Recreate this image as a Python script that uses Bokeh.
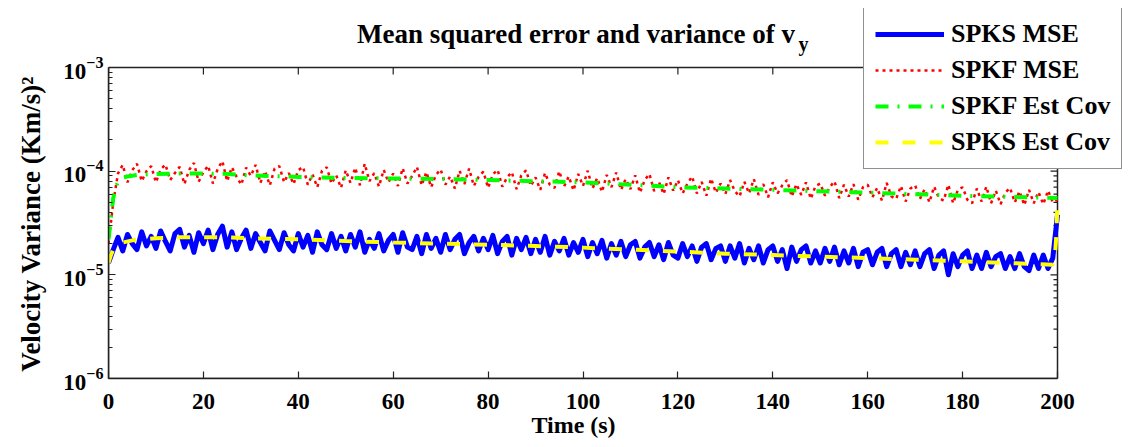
from bokeh.plotting import figure
from bokeh.models import Range1d, FixedTicker, LogTicker, LogTickFormatter, Label, Legend, LegendItem
from bokeh.embed import file_html
from bokeh.resources import INLINE

FONT = "Liberation Serif"

# ---- data ----
spks_mse_t = list(range(201))
spks_mse = [
    1.30e-5, 1.75e-5, 2.30e-5, 1.70e-5, 2.45e-5, 2.00e-5, 1.75e-5, 2.60e-5, 1.90e-5, 2.35e-5,
    1.80e-5, 2.65e-5, 2.10e-5, 1.70e-5, 2.50e-5, 2.75e-5, 1.85e-5, 2.40e-5, 1.65e-5, 2.55e-5,
    2.00e-5, 2.70e-5, 1.75e-5, 2.45e-5, 2.95e-5, 1.85e-5, 2.60e-5, 1.75e-5, 2.25e-5, 2.70e-5,
    1.80e-5, 2.50e-5, 2.05e-5, 1.70e-5, 2.65e-5, 2.15e-5, 1.75e-5, 2.55e-5, 1.95e-5, 1.70e-5,
    2.50e-5, 1.85e-5, 2.40e-5, 1.65e-5, 2.60e-5, 1.95e-5, 1.75e-5, 2.50e-5, 1.80e-5, 2.35e-5,
    1.70e-5, 2.45e-5, 1.85e-5, 2.60e-5, 1.65e-5, 2.20e-5, 1.80e-5, 2.50e-5, 1.70e-5, 2.15e-5,
    2.45e-5, 1.65e-5, 2.55e-5, 1.85e-5, 1.75e-5, 2.35e-5, 1.60e-5, 2.45e-5, 1.80e-5, 2.25e-5,
    1.65e-5, 2.45e-5, 1.75e-5, 2.20e-5, 2.45e-5, 1.60e-5, 2.05e-5, 2.35e-5, 1.70e-5, 2.25e-5,
    1.75e-5, 2.40e-5, 1.60e-5, 2.10e-5, 2.35e-5, 1.55e-5, 2.25e-5, 1.75e-5, 2.30e-5, 1.60e-5,
    2.20e-5, 1.65e-5, 2.35e-5, 1.55e-5, 2.10e-5, 1.70e-5, 2.25e-5, 1.55e-5, 2.05e-5, 1.65e-5,
    2.20e-5, 1.50e-5, 2.05e-5, 1.60e-5, 2.15e-5, 1.45e-5, 2.00e-5, 1.55e-5, 2.10e-5, 1.50e-5,
    1.95e-5, 2.10e-5, 1.45e-5, 1.85e-5, 2.05e-5, 1.50e-5, 1.95e-5, 1.40e-5, 2.05e-5, 1.55e-5,
    1.45e-5, 2.00e-5, 1.50e-5, 1.90e-5, 1.35e-5, 1.85e-5, 2.00e-5, 1.40e-5, 1.80e-5, 1.90e-5,
    1.35e-5, 1.90e-5, 1.45e-5, 2.00e-5, 1.30e-5, 1.80e-5, 1.40e-5, 1.90e-5, 1.30e-5, 1.75e-5,
    1.90e-5, 1.35e-5, 1.75e-5, 1.15e-5, 1.85e-5, 1.35e-5, 1.75e-5, 1.90e-5, 1.30e-5, 1.70e-5,
    1.30e-5, 1.80e-5, 1.35e-5, 1.85e-5, 1.25e-5, 1.70e-5, 1.30e-5, 1.80e-5, 1.20e-5, 1.65e-5,
    1.75e-5, 1.25e-5, 1.65e-5, 1.80e-5, 1.20e-5, 1.60e-5, 1.75e-5, 1.20e-5, 1.65e-5, 1.25e-5,
    1.70e-5, 1.20e-5, 1.60e-5, 1.75e-5, 1.15e-5, 1.55e-5, 1.70e-5, 1.00e-5, 1.60e-5, 1.20e-5,
    1.55e-5, 1.70e-5, 1.15e-5, 1.55e-5, 1.15e-5, 1.65e-5, 1.20e-5, 1.50e-5, 1.60e-5, 1.15e-5,
    1.50e-5, 1.15e-5, 1.60e-5, 1.20e-5, 1.10e-5, 1.55e-5, 1.15e-5, 1.55e-5, 1.15e-5, 1.45e-5,
    3.80e-5,
]

spkf_mse_t = list(range(201))
spkf_mse = [
    2.0e-5, 5.0e-5, 9.5e-5, 11.5e-5, 7.8e-5, 10.2e-5, 11.8e-5, 8.0e-5, 10.0e-5, 11.2e-5,
    7.8e-5, 10.4e-5, 11.6e-5, 8.2e-5, 9.6e-5, 11.0e-5, 7.5e-5, 10.3e-5, 12.0e-5, 7.9e-5,
    9.8e-5, 11.3e-5, 7.6e-5, 10.5e-5, 12.5e-5, 8.0e-5, 10.9e-5, 8.8e-5, 7.4e-5, 10.8e-5,
    9.0e-5, 11.5e-5, 7.7e-5, 10.0e-5, 7.3e-5, 10.6e-5, 11.2e-5, 7.8e-5, 9.6e-5, 7.5e-5,
    10.2e-5, 11.0e-5, 7.4e-5, 9.3e-5, 7.0e-5, 10.1e-5, 10.9e-5, 7.6e-5, 9.1e-5, 6.9e-5,
    10.2e-5, 7.7e-5, 10.8e-5, 7.3e-5, 11.8e-5, 8.0e-5, 9.6e-5, 7.1e-5, 10.3e-5, 7.8e-5,
    9.5e-5, 7.2e-5, 10.7e-5, 7.6e-5, 9.0e-5, 11.0e-5, 7.3e-5, 9.8e-5, 7.0e-5, 9.2e-5,
    10.4e-5, 7.4e-5, 8.9e-5, 6.8e-5, 10.1e-5, 7.5e-5, 10.6e-5, 7.2e-5, 8.8e-5, 9.9e-5,
    6.9e-5, 9.3e-5, 10.3e-5, 7.1e-5, 8.7e-5, 9.8e-5, 6.7e-5, 9.1e-5, 10.2e-5, 7.2e-5,
    8.7e-5, 6.6e-5, 9.6e-5, 7.4e-5, 6.9e-5, 10.0e-5, 7.1e-5, 8.9e-5, 6.5e-5, 9.4e-5,
    7.2e-5, 10.1e-5, 6.8e-5, 8.6e-5, 6.3e-5, 9.2e-5, 7.0e-5, 9.7e-5, 6.6e-5, 8.4e-5,
    6.7e-5, 9.1e-5, 6.2e-5, 8.2e-5, 9.4e-5, 6.4e-5, 7.9e-5, 6.0e-5, 8.7e-5, 6.5e-5,
    8.2e-5, 6.1e-5, 7.6e-5, 8.9e-5, 6.1e-5, 7.9e-5, 5.8e-5, 8.5e-5, 6.2e-5, 7.6e-5,
    6.0e-5, 8.2e-5, 6.4e-5, 5.7e-5, 7.9e-5, 6.1e-5, 8.4e-5, 5.9e-5, 7.5e-5, 5.6e-5,
    7.8e-5, 6.1e-5, 7.3e-5, 8.2e-5, 5.7e-5, 7.5e-5, 5.9e-5, 7.8e-5, 5.4e-5, 7.2e-5,
    7.6e-5, 5.8e-5, 7.0e-5, 8.0e-5, 5.5e-5, 7.4e-5, 5.7e-5, 7.5e-5, 5.3e-5, 7.0e-5,
    7.4e-5, 5.6e-5, 6.9e-5, 5.2e-5, 7.7e-5, 5.7e-5, 5.4e-5, 7.2e-5, 5.1e-5, 6.8e-5,
    7.3e-5, 5.4e-5, 6.7e-5, 5.0e-5, 7.1e-5, 5.5e-5, 5.2e-5, 7.4e-5, 4.9e-5, 6.6e-5,
    7.0e-5, 5.3e-5, 4.9e-5, 6.8e-5, 5.1e-5, 7.1e-5, 4.9e-5, 6.5e-5, 4.8e-5, 6.2e-5,
    6.9e-5, 5.0e-5, 6.4e-5, 4.7e-5, 6.6e-5, 4.9e-5, 6.3e-5, 4.8e-5, 6.5e-5, 5.0e-5,
    5.3e-5,
]

spkf_cov_t = [0, 0.5, 1, 1.5, 2, 3, 4, 6, 10, 15, 20, 25, 30, 40, 50, 60, 70, 80, 90,
              100, 110, 120, 130, 140, 150, 160, 170, 180, 190, 200]
spkf_cov = [2.2e-5, 3.5e-5, 5.5e-5, 7.0e-5, 7.9e-5, 8.6e-5, 8.9e-5, 9.2e-5, 9.4e-5, 9.5e-5,
            9.5e-5, 9.4e-5, 9.1e-5, 8.8e-5, 8.6e-5, 8.5e-5, 8.4e-5, 8.2e-5, 8.0e-5,
            7.8e-5, 7.4e-5, 7.0e-5, 6.8e-5, 6.6e-5, 6.4e-5, 6.2e-5, 6.0e-5, 5.8e-5, 5.65e-5, 5.5e-5]

spks_cov_t = [0, 0.5, 1, 2, 3, 5, 10, 15, 20, 25, 30, 40, 50, 60, 70, 80, 90, 100, 110, 120,
              130, 140, 150, 160, 170, 180, 190, 199, 199.5, 199.8, 200]
spks_cov = [1.3e-5, 1.55e-5, 1.75e-5, 1.95e-5, 2.05e-5, 2.15e-5, 2.25e-5, 2.3e-5, 2.3e-5, 2.3e-5,
            2.25e-5, 2.2e-5, 2.12e-5, 2.05e-5, 2.0e-5, 1.95e-5, 1.9e-5, 1.83e-5, 1.75e-5, 1.68e-5,
            1.6e-5, 1.55e-5, 1.5e-5, 1.45e-5, 1.4e-5, 1.35e-5, 1.3e-5, 1.25e-5, 1.6e-5, 2.6e-5, 5.5e-5]

x_min, x_max = 0, 200
y_min, y_max = 1e-6, 1e-3
x_ticks = [0, 20, 40, 60, 80, 100, 120, 140, 160, 180, 200]
y_ticks = [1e-6, 1e-5, 1e-4, 1e-3]
y_minor = [m * 10.0 ** e for e in (-6, -5, -4) for m in range(2, 10)]

series_names = ["SPKS MSE", "SPKF MSE", "SPKF Est Cov", "SPKS Est Cov"]
title_main = "Mean squared error and variance of v"
title_sub = "y"
x_label = "Time (s)"
y_label = "Velocity Variance (Km/s)\u00b2"

# ---- layout (pixels) ----
W, H = 1144, 447
FRAME_L, FRAME_R, FRAME_T, FRAME_B = 108, 1140, 8, 378   # plotting frame (holds legend + title)
BOX_R, BOX_T = 1057, 67                                   # axes box inside the frame
x_per_px = (x_max - x_min) / (BOX_R - FRAME_L)
dec_per_px = 3.0 / (FRAME_B - BOX_T)
x_view_end = x_min + (FRAME_R - FRAME_L) * x_per_px
y_view_end = y_max * 10 ** ((BOX_T - FRAME_T) * dec_per_px)

p = figure(width=W, height=H, x_range=Range1d(x_min, x_view_end), y_range=Range1d(y_min, y_view_end),
           y_axis_type="log", output_backend="svg", toolbar_location=None,
           min_border_left=FRAME_L, min_border_right=W - FRAME_R,
           min_border_top=FRAME_T, min_border_bottom=H - FRAME_B,
           background_fill_color="white", border_fill_color=None)
p.xgrid.visible = False
p.ygrid.visible = False
p.outline_line_color = None

AX = "#222222"


def style_axis(ax):
    ax.axis_line_color = AX
    ax.axis_line_width = 1.5
    ax.major_tick_in = 7
    ax.major_tick_out = 0
    ax.minor_tick_in = 4
    ax.minor_tick_out = 0
    ax.major_tick_line_color = AX
    ax.minor_tick_line_color = AX
    ax.major_tick_line_width = 1.2
    ax.minor_tick_line_width = 1.2
    ax.major_label_text_font = FONT
    ax.major_label_text_font_style = "bold"
    ax.major_label_text_color = "black"
    ax.major_label_text_font_size = "23px"
    ax.axis_label_text_font = FONT
    ax.axis_label_text_font_style = "bold"
    ax.axis_label_text_color = "black"


NBSP = "\u00a0"
xa = p.xaxis[0]
xa.ticker = FixedTicker(ticks=x_ticks)
xa.bounds = (x_min, x_max)
style_axis(xa)
xa.axis_label = x_label + NBSP * 17
xa.axis_label_text_font_size = "24px"
xa.major_label_standoff = 15
xa.axis_label_standoff = 0

ya = p.yaxis[0]
ya.ticker = FixedTicker(ticks=y_ticks, minor_ticks=y_minor)
ya.formatter = LogTickFormatter(ticker=LogTicker())
ya.bounds = (y_min, y_max)
style_axis(ya)
ya.axis_label = y_label + NBSP * 9
ya.axis_label_text_font_size = "27px"
ya.major_label_standoff = 5
ya.axis_label_standoff = 14

# top and right edges of the axes box, with mirrored ticks
p.quad(left=[x_min], right=[x_max], bottom=[y_min], top=[y_max], fill_color=None,
       line_color=AX, line_width=1.5)
top_tick_end = y_max / 10 ** (7 * dec_per_px)
p.segment(x0=x_ticks, x1=x_ticks, y0=[y_max] * len(x_ticks), y1=[top_tick_end] * len(x_ticks),
          line_color=AX, line_width=1.2)
p.segment(x0=[x_max] * len(y_ticks), x1=[x_max - 7 * x_per_px] * len(y_ticks), y0=y_ticks, y1=y_ticks,
          line_color=AX, line_width=1.2)
p.segment(x0=[x_max] * len(y_minor), x1=[x_max - 4 * x_per_px] * len(y_minor), y0=y_minor, y1=y_minor,
          line_color=AX, line_width=1.2)

# ---- series ----
r1 = p.line(spks_mse_t, spks_mse, line_color="#0000ff", line_width=5, line_join="round")
r2 = p.line(spkf_mse_t, spkf_mse, line_color="#ff0000", line_width=2.5, line_dash="3 4")
r3 = p.line(spkf_cov_t, spkf_cov, line_color="#00ff00", line_width=4, line_dash="13 9 2 9")
r4 = p.line(spks_cov_t, spks_cov, line_color="#ffff00", line_width=4, line_dash="13 14")

leg = Legend(items=[LegendItem(label=n, renderers=[r]) for n, r in zip(series_names, [r1, r2, r3, r4])])
leg_h = 2 * 11 + 4 * 30 + 3 * 6
leg.location = (863 - FRAME_L, FRAME_B - 9 - leg_h)
leg.label_text_font = FONT
leg.label_text_font_style = "bold"
leg.label_text_font_size = "26px"
leg.label_text_color = "black"
leg.glyph_width = 69
leg.glyph_height = 30
leg.label_height = 30
leg.label_standoff = 7
leg.spacing = 6
leg.padding = 11
leg.margin = 0
leg.border_line_color = AX
leg.border_line_width = 1.5
leg.background_fill_color = "white"
leg.background_fill_alpha = 1.0
p.add_layout(leg, "center")

# ---- title (inside the frame, above the axes box) ----
p.add_layout(Label(x=795 - FRAME_L, y=FRAME_B - 33, x_units="screen", y_units="screen", text=title_main,
                   text_align="right", text_baseline="alphabetic", text_font=FONT,
                   text_font_style="bold", text_font_size="27px", text_color="black"))
p.add_layout(Label(x=798 - FRAME_L, y=FRAME_B - 43, x_units="screen", y_units="screen", text=title_sub,
                   text_align="left", text_baseline="alphabetic", text_font=FONT,
                   text_font_style="bold", text_font_size="20px", text_color="black"))

open("out.html", "w").write(file_html(p, INLINE))
